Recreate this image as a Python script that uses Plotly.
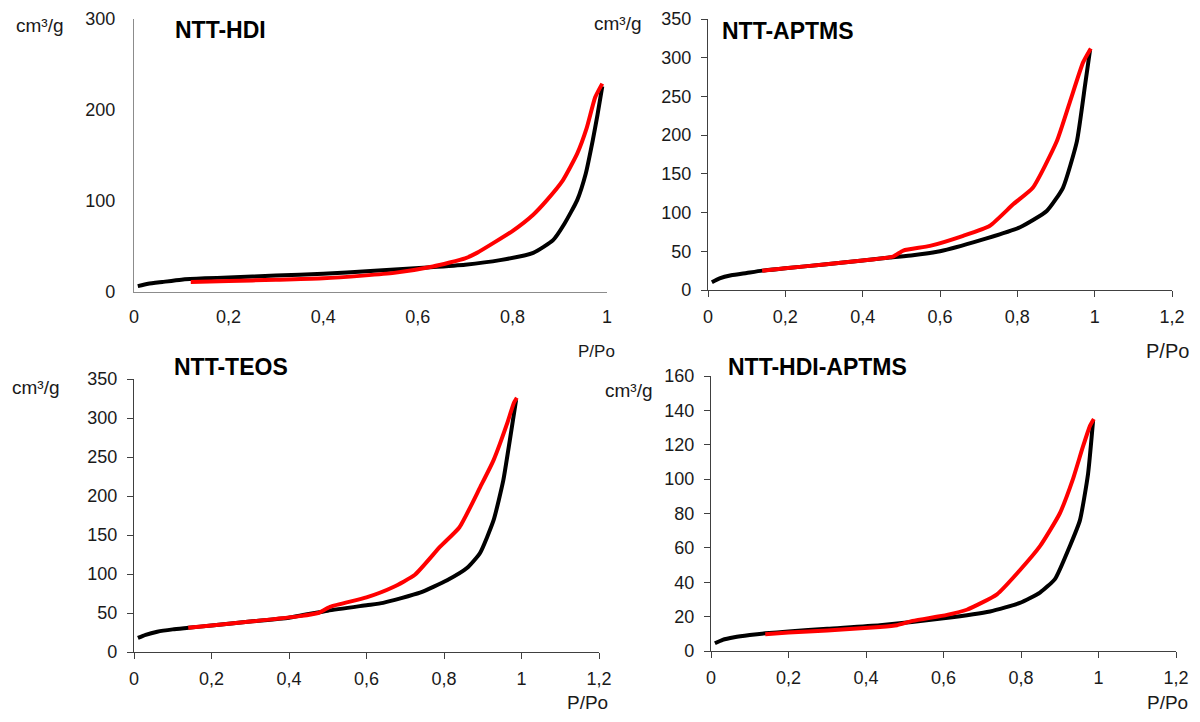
import plotly.graph_objects as go

# ---------------- data (P/Po, cm3/g) ----------------
hdi_ads_x = [0.008, 0.03, 0.06, 0.1, 0.15, 0.2, 0.3, 0.4, 0.5, 0.62, 0.7, 0.774, 0.844, 0.886, 0.91, 0.937, 0.955, 0.97, 0.98, 0.99]
hdi_ads_y = [6.5, 9, 11, 13.5, 15, 16, 18, 20, 23, 27, 30, 35, 43, 57, 75, 101, 130, 167, 195, 226]
hdi_des_x = [0.12, 0.2, 0.3, 0.4, 0.484, 0.55, 0.632, 0.7, 0.725, 0.8, 0.844, 0.873, 0.907, 0.937, 0.957, 0.975, 0.99]
hdi_des_y = [11, 12, 13.5, 15, 18, 21, 28, 37, 43, 67, 85, 101, 123, 152, 180, 214, 229]

aptms_ads_x = [0.01, 0.03, 0.06, 0.1, 0.14, 0.2, 0.3, 0.4, 0.47, 0.53, 0.6, 0.703, 0.807, 0.876, 0.918, 0.954, 0.975, 0.988]
aptms_ads_y = [10, 15, 19, 22, 25, 28, 33, 38, 42, 45, 50, 64, 81, 102, 132, 192, 264, 310]
aptms_des_x = [0.14, 0.2, 0.3, 0.4, 0.478, 0.505, 0.574, 0.66, 0.729, 0.79, 0.84, 0.902, 0.936, 0.97, 0.99]
aptms_des_y = [25, 28, 33, 38, 43, 51, 57, 70, 83, 111, 132, 192, 243, 294, 312]

teos_ads_x = [0.01, 0.03, 0.06, 0.1, 0.14, 0.2, 0.3, 0.4, 0.5, 0.6, 0.643, 0.738, 0.808, 0.86, 0.893, 0.928, 0.953, 0.97, 0.986]
teos_ads_y = [18, 22, 26, 29, 31, 34, 39, 44, 53, 60, 63, 76, 92, 108, 127, 169, 220, 272, 323]
teos_des_x = [0.14, 0.2, 0.3, 0.428, 0.475, 0.506, 0.6, 0.668, 0.725, 0.79, 0.84, 0.894, 0.928, 0.963, 0.98, 0.988]
teos_des_y = [31, 34, 39, 46, 50, 58, 70, 83, 99, 135, 160, 212, 246, 293, 319, 326]

hdiap_ads_x = [0.01, 0.03, 0.06, 0.1, 0.14, 0.2, 0.3, 0.436, 0.6, 0.72, 0.797, 0.849, 0.888, 0.926, 0.952, 0.973, 0.986]
hdiap_ads_y = [4.5, 6.5, 8, 9.3, 10.3, 11.3, 13, 15, 19, 23, 28, 34, 42, 61, 76, 103, 134]
hdiap_des_x = [0.14, 0.2, 0.3, 0.436, 0.48, 0.52, 0.609, 0.66, 0.738, 0.797, 0.849, 0.9, 0.934, 0.96, 0.978, 0.988]
hdiap_des_y = [9.8, 10.7, 12, 14, 15, 17.5, 21, 24, 33, 47, 61, 80, 100, 119, 131, 135]

titles = ["NTT-HDI", "NTT-APTMS", "NTT-TEOS", "NTT-HDI-APTMS"]
y_ranges = [[0, 300], [0, 350], [0, 350], [0, 160]]
y_dticks = [100, 50, 50, 20]
x_ranges = [[0, 1], [0, 1.2], [0, 1.2], [0, 1.2]]

panels = [
    (hdi_ads_x, hdi_ads_y, hdi_des_x, hdi_des_y),
    (aptms_ads_x, aptms_ads_y, aptms_des_x, aptms_des_y),
    (teos_ads_x, teos_ads_y, teos_des_x, teos_des_y),
    (hdiap_ads_x, hdiap_ads_y, hdiap_des_x, hdiap_des_y),
]

# the page body has an 8px margin: shrink figure so page is exactly 1200x722
OFF = 8
W, H = 1200 - 2 * OFF, 722 - 2 * OFF
def fx(px): return (px - OFF) / W
def fy(py): return 1 - (py - OFF) / H

# plot areas in window pixels: (left, right, top, bottom)
areas = [(134, 607, 19, 292), (708, 1172, 19, 290), (134, 599, 379, 652), (711, 1176, 376, 651)]

FONT = "Liberation Sans, Arial, sans-serif"
fig = go.Figure()

for i, (ax, ay, dx, dy) in enumerate(panels):
    n = "" if i == 0 else str(i + 1)
    fig.add_trace(go.Scatter(x=ax, y=ay, mode="lines", line=dict(color="#000000", width=4, shape="spline", smoothing=0.5),
                             xaxis="x" + n, yaxis="y" + n, showlegend=False, hoverinfo="skip"))
    fig.add_trace(go.Scatter(x=dx, y=dy, mode="lines", line=dict(color="#ff0000", width=4, shape="spline", smoothing=0.5),
                             xaxis="x" + n, yaxis="y" + n, showlegend=False, hoverinfo="skip"))

layout = dict(template="none", width=W, height=H, margin=dict(l=0, r=0, t=0, b=0, pad=0),
              paper_bgcolor="white", plot_bgcolor="white",
              separators=",.", font=dict(family=FONT, size=18, color="#1a1a1a"), showlegend=False)

for i in range(4):
    l, r, t, b = areas[i]
    n = "" if i == 0 else str(i + 1)
    first = i == 0
    axcol = "#8c8c8c" if first else "#404040"
    layout["xaxis" + n] = dict(domain=[fx(l), fx(r)], range=x_ranges[i], dtick=0.2, tick0=0, anchor="y" + n,
                               showline=True, linecolor=axcol, linewidth=1.3, showgrid=False, zeroline=False,
                               ticks="" if first else "outside", ticklen=6, tickcolor="#404040",
                               tickfont=dict(size=18, family=FONT, color="#1a1a1a"), automargin=False,
                               ticklabeloverflow="allow",
                               ticklabelstandoff=8 if first else 4, fixedrange=True)
    layout["yaxis" + n] = dict(domain=[fy(b), fy(t)], range=y_ranges[i], dtick=y_dticks[i], tick0=0, anchor="x" + n,
                               showline=True, linecolor=axcol, linewidth=1.3, showgrid=False, zeroline=False,
                               ticks="" if first else "outside", ticklen=6, tickcolor="#404040",
                               tickfont=dict(size=18, family=FONT, color="#1a1a1a"), automargin=False,
                               ticklabeloverflow="allow",
                               ticklabelstandoff=14 if first else 6, fixedrange=True)

fig.update_layout(**layout)

# titles
title_pos = [(173, 30), (720, 31), (172, 367), (726, 367)]
for (px, py), txt in zip(title_pos, titles):
    fig.add_annotation(text="<b>" + txt + "</b>", x=fx(px), y=fy(py), xref="paper", yref="paper",
                       xanchor="left", yanchor="middle", showarrow=False,
                       font=dict(family=FONT, size=23, color="#000000"))

# y units
unit_pos = [(14, 25), (592, 24), (10, 387), (603, 390)]
for px, py in unit_pos:
    fig.add_annotation(text="cm³/g", x=fx(px), y=fy(py), xref="paper", yref="paper",
                       xanchor="left", yanchor="middle", showarrow=False,
                       font=dict(family=FONT, size=19, color="#1a1a1a"))

# x labels
xl_pos = [(596, 352, 17), (1167, 351, 20), (587, 702, 19), (1167, 702, 19)]
for px, py, sz in xl_pos:
    fig.add_annotation(text="P/Po", x=fx(px), y=fy(py), xref="paper", yref="paper",
                       xanchor="center", yanchor="middle", showarrow=False,
                       font=dict(family=FONT, size=sz, color="#1a1a1a"))

fig.write_html("out.html")
